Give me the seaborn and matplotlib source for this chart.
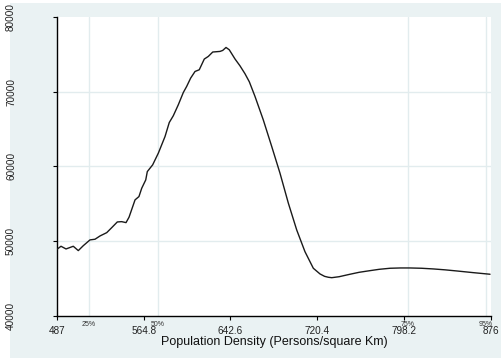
import numpy as np
import pandas as pd
import matplotlib
matplotlib.use('Agg')
import matplotlib.pyplot as plt
import seaborn as sns
from matplotlib.patches import Rectangle

# Curve (population density vs. estimated value)
density_x = [487.0, 490.6, 495.1, 501.6, 506.1, 510.6, 516.6, 521.1, 525.6, 531.6,
             536.1, 541.1, 545.0, 548.9, 551.6, 557.0, 560.5, 563.0, 566.6, 568.0,
             572.8, 577.9, 583.9, 587.7, 591.3, 595.8, 600.3, 603.3, 606.9, 610.8,
             614.6, 619.1, 622.7, 626.7, 633.2, 635.6, 638.6, 641.5, 646.7, 651.1,
             655.6, 659.5, 664.6, 672.0, 679.6, 687.0, 694.5, 702.0, 709.4, 716.9,
             722.9, 727.0, 730.3, 733.4, 740.0, 749.8, 758.0, 767.7, 776.0, 785.7,
             795.0, 803.6, 814.0, 824.5, 835.0, 845.5, 860.0, 875.4]
density_y = [48920, 49320, 48960, 49320, 48740, 49400, 50170, 50260, 50700, 51140,
             51810, 52570, 52610, 52480, 53200, 55520, 55960, 57080, 58190, 59300,
             60200, 61770, 63990, 65860, 66760, 68230, 69870, 70680, 71800, 72680,
             72910, 74340, 74690, 75280, 75360, 75490, 75890, 75580, 74340, 73440,
             72380, 71300, 69340, 66220, 62650, 59090, 55080, 51500, 48600, 46380,
             45620, 45300, 45180, 45120, 45250, 45580, 45840, 46060, 46240, 46380,
             46420, 46420, 46380, 46290, 46170, 46020, 45800, 45580]

x_ticks = [487, 564.8, 642.6, 720.4, 798.2, 876]
x_tick_labels = ['487', '564.8', '642.6', '720.4', '798.2', '876']
y_ticks = [40000, 50000, 60000, 70000, 80000]
pct_values = [515.7, 577.6, 801.5, 871.5]
pct_labels = ['25%', '50%', '75%', '95%']

df = pd.DataFrame({'density': density_x, 'value': density_y})

sns.set_theme(style="white")
plt.rcParams['font.family'] = ['Liberation Sans', 'DejaVu Sans']

bg = '#EAF2F3'
fig = plt.figure(figsize=(5.02, 3.58), dpi=100, facecolor='white')
# light graph region, with a thin white strip left and top
bg_rect = Rectangle((10 / 502, 0), 1 - 10 / 502, 1 - 3 / 358,
                    transform=fig.transFigure, facecolor=bg, edgecolor='none')
bg_rect.set_zorder(-10)
fig.add_artist(bg_rect)

ax = fig.add_axes([57 / 502, 42 / 358, (490.7 - 57) / 502, (316 - 16.7) / 358])
ax.set_facecolor('white')

# horizontal grid lines
for yv in y_ticks[1:-1]:
    ax.axhline(yv, color='#E2ECEE', lw=1.0, zorder=1)
# percentile lines
for pv in pct_values:
    ax.axvline(pv, color='#E2ECEE', lw=1.0, zorder=1)

sns.lineplot(data=df, x='density', y='value', ax=ax, color='#1a1a1a', lw=1.0, zorder=3)

ax.set_xlim(487, 876)
ax.set_ylim(40000, 80000)
ax.set_xticks(x_ticks)
ax.set_xticklabels(x_tick_labels)
ax.set_yticks(y_ticks)
ax.set_yticklabels([str(v) for v in y_ticks], rotation=90, va='center')

for s in ['top', 'right']:
    ax.spines[s].set_visible(False)
for s in ['left', 'bottom']:
    ax.spines[s].set_color('black')
    ax.spines[s].set_linewidth(1.0)

ax.tick_params(axis='x', bottom=True, length=3, width=0.8, color='black',
               labelsize=7.2, pad=4, labelcolor='#222222')
ax.tick_params(axis='y', left=True, length=3, width=0.8, color='black',
               labelsize=7.2, pad=26.5, labelcolor='#222222')

for pv, pl in zip(pct_values, pct_labels):
    ax.text(pv, -0.03, pl, transform=ax.get_xaxis_transform(), ha='center',
            va='center', fontsize=5, color='#333333')

ax.set_xlabel('Population Density (Persons/square Km)', fontsize=9, labelpad=0.5,
              color='#111111')
ax.set_ylabel('')

fig.savefig('out.png', dpi=100, facecolor=fig.get_facecolor())
